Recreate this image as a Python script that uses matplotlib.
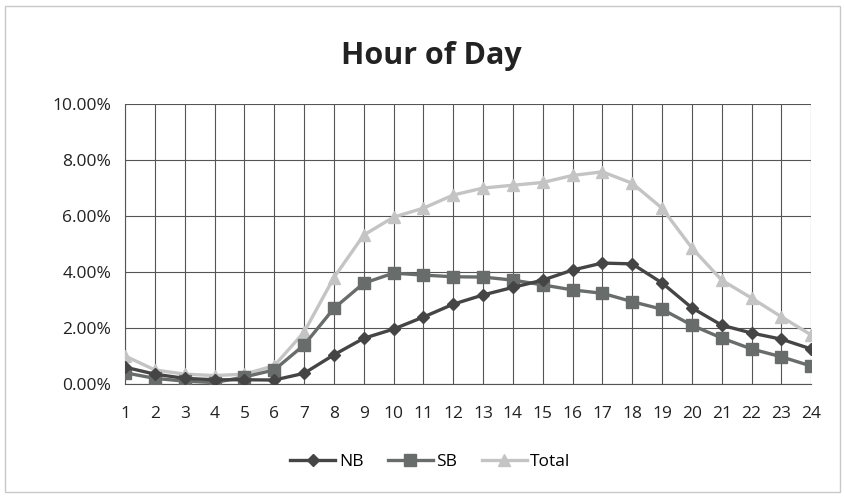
import matplotlib
matplotlib.use("Agg")
import matplotlib.pyplot as plt
from matplotlib.patches import Rectangle
from matplotlib.ticker import FuncFormatter, MultipleLocator

# hourly share of daily volume, percent
hours = list(range(1, 25))
nb = [0.6, 0.35, 0.2, 0.15, 0.15, 0.14, 0.38, 1.04, 1.63, 1.96, 2.39, 2.85,
      3.18, 3.45, 3.71, 4.07, 4.32, 4.29, 3.61, 2.72, 2.1, 1.82, 1.6, 1.25]
sb = [0.4, 0.2, 0.1, 0.05, 0.25, 0.5, 1.39, 2.7, 3.6, 3.96, 3.89, 3.83,
      3.82, 3.71, 3.54, 3.36, 3.24, 2.94, 2.67, 2.1, 1.64, 1.25, 0.97, 0.64]
total = [1.0, 0.5, 0.35, 0.3, 0.35, 0.65, 1.85, 3.8, 5.32, 5.96, 6.28, 6.75,
         7.0, 7.1, 7.2, 7.45, 7.58, 7.17, 6.28, 4.86, 3.71, 3.07, 2.4, 1.75]

plt.rcParams["font.family"] = ["Open Sans", "DejaVu Sans"]

fig = plt.figure(figsize=(8.45, 4.98), dpi=100)
fig.patches.append(Rectangle((0.006, 0.012), 0.988, 0.976, transform=fig.transFigure,
                             fill=False, edgecolor="#c8c8c8", lw=1.0))
ax = fig.add_axes([0.148, 0.229, 0.812, 0.562])

ax.plot(hours, nb, color="#454545", lw=2.4, marker="D", ms=6.5, label="NB", zorder=5)
ax.plot(hours, sb, color="#686c6a", lw=2.4, marker="s", ms=8.5, label="SB", zorder=4)
ax.plot(hours, total, color="#c4c4c4", lw=2.4, marker="^", ms=8, label="Total", zorder=3)

ax.set_xlim(1, 24)
ax.set_ylim(0, 10)
ax.set_xticks(hours)
ax.yaxis.set_major_locator(MultipleLocator(2))
ax.yaxis.set_major_formatter(FuncFormatter(lambda v, _: f"{v:.2f}%"))
ax.grid(True, color="#555555", lw=0.8)
ax.set_axisbelow(True)
for s in ("top", "right"):
    ax.spines[s].set_visible(False)
ax.spines["left"].set_color("#555555")
ax.spines["bottom"].set_color("#555555")
ax.tick_params(length=0, labelsize=12.5, colors="#222222")
ax.tick_params(axis="x", pad=16)
ax.tick_params(axis="y", pad=10)

fig.text(0.51, 0.888, "Hour of Day", fontsize=22, fontweight="bold",
         color="#222222", ha="center", va="center")
ax.legend(loc="center", bbox_to_anchor=(0.445, -0.28), ncol=3, frameon=False,
          fontsize=12.5, handlelength=2.6, columnspacing=1.4, handletextpad=0.2)

fig.savefig("out.png", dpi=100)
